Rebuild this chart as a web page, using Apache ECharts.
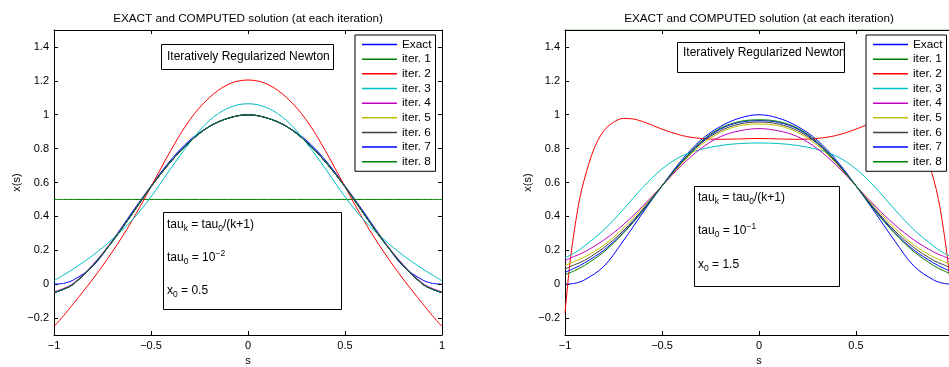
<!DOCTYPE html>
<html>
<head>
<meta charset="utf-8">
<script src="https://cdn.jsdelivr.net/npm/echarts@6/dist/echarts.min.js"></script>
<style>
html,body{margin:0;padding:0;background:#fff;}
#chart{width:949px;height:367px;}
</style>
</head>
<body>
<div id="chart"></div>
<script>
// ---------------- DATA ----------------
const seriesNames = ['Exact','iter. 1','iter. 2','iter. 3','iter. 4','iter. 5','iter. 6','iter. 7','iter. 8'];
const yTickValues = [-0.2, 0, 0.2, 0.4, 0.6, 0.8, 1, 1.2, 1.4];

// common sample points s
const sGrid = [-1, -0.95, -0.9, -0.8, -0.7, -0.6, -0.5, -0.4, -0.3, -0.2, -0.1, 0, 0.1, 0.2, 0.3, 0.4, 0.5, 0.6, 0.7, 0.8, 0.9, 0.95, 1];
// finer sample points (right plot, iter. 2)
const sFine = [-1, -0.975, -0.95, -0.925, -0.9, -0.85, -0.8, -0.75, -0.7, -0.65, -0.6, -0.5, -0.4, -0.3, -0.2, -0.1, 0, 0.1, 0.2, 0.3, 0.4, 0.5, 0.6, 0.65, 0.7, 0.75, 0.8, 0.85, 0.9, 0.925, 0.95, 0.975, 1];

const exactVals = [0, 0.005, 0.025, 0.105, 0.255, 0.42, 0.58, 0.73, 0.85, 0.93, 0.98, 1.0, 0.98, 0.93, 0.85, 0.73, 0.58, 0.42, 0.255, 0.105, 0.025, 0.005, 0];

// Left plot (tau0 = 1e-2, x0 = 0.5)
const leftIter1 = [0.5, 0.5, 0.5, 0.5, 0.5, 0.5, 0.5, 0.5, 0.5, 0.5, 0.5, 0.5, 0.5, 0.5, 0.5, 0.5, 0.5, 0.5, 0.5, 0.5, 0.5, 0.5, 0.5];
const leftIter2 = [-0.25, -0.185, -0.115, 0.03, 0.19, 0.37, 0.575, 0.785, 0.97, 1.10, 1.18, 1.205, 1.18, 1.10, 0.97, 0.785, 0.575, 0.37, 0.19, 0.03, -0.115, -0.185, -0.25];
const leftIter3 = [0.02, 0.055, 0.09, 0.17, 0.265, 0.375, 0.515, 0.68, 0.835, 0.965, 1.04, 1.065, 1.04, 0.965, 0.835, 0.68, 0.515, 0.375, 0.265, 0.17, 0.09, 0.055, 0.02];
const leftIter4 = [-0.045, -0.025, 0.005, 0.115, 0.255, 0.41, 0.575, 0.72, 0.84, 0.93, 0.98, 0.998, 0.98, 0.93, 0.84, 0.72, 0.575, 0.41, 0.255, 0.115, 0.005, -0.025, -0.045];
const leftIter5 = [-0.05, -0.03, 0.0, 0.11, 0.25, 0.41, 0.575, 0.72, 0.84, 0.93, 0.98, 1.0, 0.98, 0.93, 0.84, 0.72, 0.575, 0.41, 0.25, 0.11, 0.0, -0.03, -0.05];
const leftIter6 = [-0.05, -0.03, 0.0, 0.11, 0.25, 0.41, 0.575, 0.72, 0.84, 0.93, 0.98, 1.0, 0.98, 0.93, 0.84, 0.72, 0.575, 0.41, 0.25, 0.11, 0.0, -0.03, -0.05];
const leftIter7 = [-0.05, -0.03, 0.0, 0.11, 0.25, 0.41, 0.575, 0.72, 0.84, 0.93, 0.98, 1.0, 0.98, 0.93, 0.84, 0.72, 0.575, 0.41, 0.25, 0.11, 0.0, -0.03, -0.05];
const leftIter8 = [-0.05, -0.03, 0.0, 0.11, 0.25, 0.41, 0.575, 0.72, 0.84, 0.93, 0.98, 1.0, 0.98, 0.93, 0.84, 0.72, 0.575, 0.41, 0.25, 0.11, 0.0, -0.03, -0.05];

// Right plot (tau0 = 1e-1, x0 = 1.5)
const rightIter1 = [1.5, 1.5, 1.5, 1.5, 1.5, 1.5, 1.5, 1.5, 1.5, 1.5, 1.5, 1.5, 1.5, 1.5, 1.5, 1.5, 1.5, 1.5, 1.5, 1.5, 1.5, 1.5, 1.5];
const rightIter2 = [-0.17, 0.12, 0.33, 0.50, 0.62, 0.80, 0.905, 0.955, 0.978, 0.975, 0.96, 0.915, 0.878, 0.86, 0.855, 0.857, 0.86, 0.857, 0.855, 0.86, 0.878, 0.915, 0.96, 0.975, 0.978, 0.955, 0.905, 0.80, 0.62, 0.50, 0.33, 0.12, -0.17];
const rightIter3 = [0.155, 0.185, 0.225, 0.32, 0.44, 0.57, 0.68, 0.755, 0.795, 0.818, 0.83, 0.833, 0.83, 0.818, 0.795, 0.755, 0.68, 0.57, 0.44, 0.32, 0.225, 0.185, 0.155];
const rightIter4 = [0.14, 0.165, 0.19, 0.26, 0.35, 0.46, 0.58, 0.70, 0.80, 0.87, 0.905, 0.918, 0.905, 0.87, 0.80, 0.70, 0.58, 0.46, 0.35, 0.26, 0.19, 0.165, 0.14];
const rightIter5 = [0.11, 0.135, 0.16, 0.23, 0.33, 0.45, 0.58, 0.71, 0.82, 0.895, 0.935, 0.945, 0.935, 0.895, 0.82, 0.71, 0.58, 0.45, 0.33, 0.23, 0.16, 0.135, 0.11];
const rightIter6 = [0.09, 0.115, 0.14, 0.215, 0.315, 0.44, 0.58, 0.715, 0.83, 0.905, 0.945, 0.957, 0.945, 0.905, 0.83, 0.715, 0.58, 0.44, 0.315, 0.215, 0.14, 0.115, 0.09];
const rightIter7 = [0.07, 0.095, 0.125, 0.20, 0.305, 0.435, 0.58, 0.72, 0.835, 0.915, 0.955, 0.965, 0.955, 0.915, 0.835, 0.72, 0.58, 0.435, 0.305, 0.20, 0.125, 0.095, 0.07];
const rightIter8 = [0.055, 0.08, 0.11, 0.19, 0.30, 0.43, 0.58, 0.72, 0.84, 0.92, 0.96, 0.97, 0.96, 0.92, 0.84, 0.72, 0.58, 0.43, 0.30, 0.19, 0.11, 0.08, 0.055];

// ---------------- STYLE ----------------
const colors = ['#0000ff', '#008000', '#ff0000', '#00bfbf', '#bf00bf', '#bfbf00', '#404040', '#0000ff', '#008000'];
const FONT = "'Liberation Sans', Arial, Helvetica, sans-serif";

function pairs(xs, ys) { return xs.map((x, i) => [x, ys[i]]); }
function fmt(v) { return String(v).replace('-', '\u2212'); }

const leftSets = [
  [sGrid, exactVals], [sGrid, leftIter1], [sGrid, leftIter2], [sGrid, leftIter3], [sGrid, leftIter4],
  [sGrid, leftIter5], [sGrid, leftIter6], [sGrid, leftIter7], [sGrid, leftIter8]
];
const rightSets = [
  [sGrid, exactVals], [sGrid, rightIter1], [sFine, rightIter2], [sGrid, rightIter3], [sGrid, rightIter4],
  [sGrid, rightIter5], [sGrid, rightIter6], [sGrid, rightIter7], [sGrid, rightIter8]
];

function mkSeries(sets, gi) {
  return sets.map((d, i) => ({
    name: seriesNames[i],
    type: 'line',
    xAxisIndex: gi * 2,
    yAxisIndex: gi * 2,
    data: pairs(d[0], d[1]),
    symbol: 'none',
    showSymbol: false,
    smooth: 0.35,
    lineStyle: { color: colors[i], width: 1 },
    itemStyle: { color: colors[i] },
    emphasis: { disabled: true },
    animation: false,
    z: 2 + i * 0.01
  }));
}

function xAxes(gi) {
  const base = {
    type: 'value', gridIndex: gi, min: -1, max: 1, interval: 0.5,
    axisLine: { onZero: false, lineStyle: { color: '#000', width: 1 } },
    axisTick: { inside: true, length: 4, lineStyle: { color: '#000' } },
    splitLine: { show: false }
  };
  return [
    Object.assign({}, base, {
      position: 'bottom',
      axisLabel: { color: '#000', fontSize: 11, fontFamily: FONT, margin: 5, formatter: fmt },
      name: 's', nameLocation: 'middle', nameGap: 18,
      nameTextStyle: { color: '#000', fontSize: 11, fontFamily: FONT }
    }),
    Object.assign({}, base, { position: 'top', axisLabel: { show: false }, z: 10 })
  ];
}
function yAxes(gi) {
  const base = {
    type: 'value', gridIndex: gi, min: -0.3, max: 1.5,
    axisLine: { onZero: false, lineStyle: { color: '#000', width: 1 } },
    axisTick: { inside: true, length: 4, lineStyle: { color: '#000' }, customValues: yTickValues },
    splitLine: { show: false }
  };
  return [
    Object.assign({}, base, {
      position: 'left',
      axisLabel: { color: '#000', fontSize: 11, fontFamily: FONT, margin: 5, formatter: fmt, customValues: yTickValues },
      name: 'x(s)', nameLocation: 'middle', nameGap: 32, nameRotate: 90,
      nameTextStyle: { color: '#000', fontSize: 11, fontFamily: FONT }
    }),
    Object.assign({}, base, { position: 'right', axisLabel: { show: false }, z: 10 })
  ];
}

function legend(left) {
  return {
    data: seriesNames.map((n, i) => ({ name: n, icon: 'rect', itemStyle: { color: colors[i] } })),
    orient: 'vertical', left: left, top: 35,
    itemWidth: 35, itemHeight: 1.5, itemGap: 1.66,
    padding: [3, 4, 3, 7],
    borderColor: '#000', borderWidth: 1, backgroundColor: '#fff',
    textStyle: { color: '#000', fontSize: 11.8, fontFamily: FONT, lineHeight: 13 },
    selectedMode: false, z: 20
  };
}

const titleText = 'EXACT and COMPUTED solution (at each iteration)';

const rich = {
  t: { fontSize: 12, fontFamily: FONT, fill: '#000' },
  sub: { fontSize: 8.5, fontFamily: FONT, padding: [8, 0, 0, 0] },
  sup: { fontSize: 8.5, fontFamily: FONT, padding: [0, 0, 8, 0] }
};
function txt(x, y, text) {
  return { type: 'text', x: x, y: y, z: 30, style: { text: text, fill: '#000', fontSize: 12, fontFamily: FONT, verticalAlign: 'middle', rich: rich } };
}
function box(x, y, w, h) {
  return { type: 'rect', z: 25, shape: { x: x + 0.5, y: y + 0.5, width: w, height: h }, style: { fill: '#fff', stroke: '#000', lineWidth: 1 } };
}

const graphics = [
  box(161, 44, 172, 25), txt(167, 56.5, '{t|Iteratively Regularized Newton}'),
  box(163, 212, 178, 97),
  txt(167, 225, '{t|tau}{sub|k}{t| = tau}{sub|0}{t|/(k+1)}'),
  txt(167, 258, '{t|tau}{sub|0}{t| = 10}{sup|\u22122}'),
  txt(167, 291, '{t|x}{sub|0}{t| = 0.5}'),
  box(677, 42, 167, 30), txt(683, 53, '{t|Iteratively Regularized Newton}'),
  box(694, 186, 145, 100),
  txt(698, 198, '{t|tau}{sub|k}{t| = tau}{sub|0}{t|/(k+1)}'),
  txt(698, 231, '{t|tau}{sub|0}{t| = 10}{sup|\u22121}'),
  txt(698, 265, '{t|x}{sub|0}{t| = 1.5}')
];

const option = {
  animation: false,
  backgroundColor: '#fff',
  title: [
    { text: titleText, left: 243, top: 8, textAlign: 'center', textStyle: { fontSize: 11.7, fontWeight: 'normal', color: '#000', fontFamily: FONT } },
    { text: titleText, left: 754, top: 8, textAlign: 'center', textStyle: { fontSize: 11.7, fontWeight: 'normal', color: '#000', fontFamily: FONT } }
  ],
  grid: [
    { left: 54, top: 30, width: 388, height: 305, containLabel: false, outerBoundsMode: 'none' },
    { left: 565, top: 30, width: 388, height: 305, containLabel: false, outerBoundsMode: 'none' }
  ],
  xAxis: xAxes(0).concat(xAxes(1)),
  yAxis: yAxes(0).concat(yAxes(1)),
  legend: [legend(355), legend(866)],
  series: mkSeries(leftSets, 0).concat(mkSeries(rightSets, 1)),
  graphic: graphics
};

const chart = echarts.init(document.getElementById('chart'), null, { renderer: 'canvas' });
chart.setOption(option);
</script>
</body>
</html>
